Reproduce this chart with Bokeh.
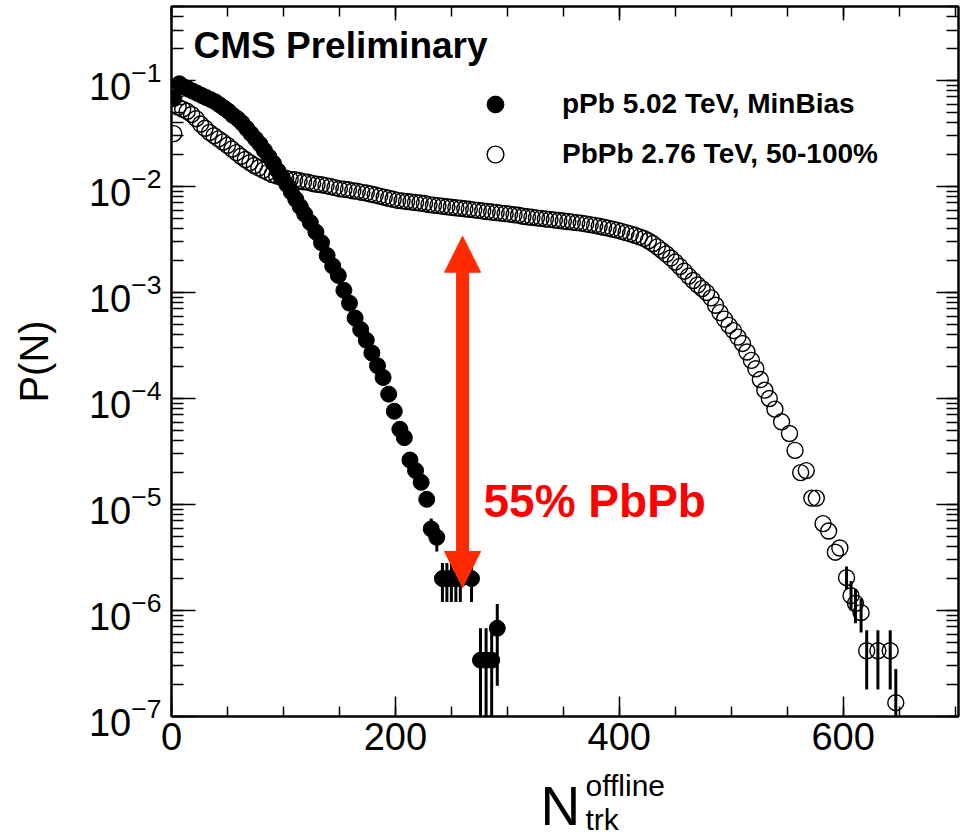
from bokeh.plotting import figure
from bokeh.layouts import column
from bokeh.models import (Range1d, LogAxis, LinearAxis, LogTicker, SingleIntervalTicker,
                          Arrow, NormalHead, Label, Legend, LegendItem)
from bokeh.core.properties import value
from bokeh.embed import file_html
from bokeh.resources import INLINE

FONT = "Liberation Sans"
RED_ARROW = "#ff2a00"
RED_TEXT = "#ff0000"

# ---------------- data ----------------
ppb_n = [2, 7, 11, 15, 19, 23, 27, 31, 35, 39, 43, 47, 51, 55, 59, 63, 67, 71, 75, 79,
         83, 87, 91, 95, 99, 103, 107, 111, 115, 119, 124, 129, 134, 139, 144, 149, 154,
         159, 164, 169, 174, 179, 184, 189, 194, 199, 204, 208, 213, 218, 223, 228, 232,
         237, 242, 246, 250, 254, 258, 268, 276, 281, 286, 291]
ppb_p = [0.0676, 0.0933, 0.0871, 0.0832, 0.0794, 0.0759, 0.0724, 0.0692, 0.0661, 0.0631,
         0.0589, 0.0550, 0.0513, 0.0468, 0.0437, 0.0398, 0.0355, 0.0316, 0.0282, 0.0251,
         0.0219, 0.0191, 0.0166, 0.0141, 0.0120, 0.0105, 0.00891, 0.00759, 0.00646, 0.00550,
         0.00457, 0.00372, 0.00295, 0.00224, 0.00178, 0.00145, 0.00105, 7.94e-4, 5.75e-4,
         4.47e-4, 3.55e-4, 2.69e-4, 2.04e-4, 1.58e-4, 1.10e-4, 7.59e-5, 5.13e-5,
         4.27e-5, 2.63e-5, 2.09e-5, 1.62e-5, 1.12e-5, 5.89e-6, 4.90e-6,
         2.0e-6, 2.0e-6, 2.0e-6, 2.0e-6, 2.0e-6, 2.0e-6, 3.4e-7, 3.4e-7, 3.4e-7, 6.8e-7]
ppb_err_n = [232, 237, 242, 246, 250, 254, 258, 268, 276, 281, 286, 291]
ppb_err_lo = [4.6e-6, 3.6e-6, 1.2e-6, 1.2e-6, 1.2e-6, 1.2e-6, 1.2e-6, 1.2e-6, 1e-8, 1e-8, 1e-8, 1.95e-7]
ppb_err_hi = [7.4e-6, 6.4e-6, 2.8e-6, 2.8e-6, 2.8e-6, 2.8e-6, 2.8e-6, 2.8e-6, 6.8e-7, 6.8e-7, 6.8e-7, 1.15e-6]

pbpb_n = [2, 6, 10, 14, 18, 22, 26, 30, 34, 38, 42, 46, 50, 54, 58, 62, 66, 70, 74, 78,
          82, 86, 90, 94, 98, 102, 106, 110, 114, 118, 122, 126, 130, 134, 138, 142, 146,
          150, 154, 158, 162, 166, 170, 174, 178, 182, 186, 190, 194, 198, 202, 206, 210,
          214, 218, 222, 226, 230, 234, 238, 242, 246, 250, 254, 258, 262, 266, 270, 274,
          278, 282, 286, 290, 294, 298, 302, 306, 310, 314, 318, 322, 326, 330, 334, 338,
          342, 346, 350, 354, 358, 362, 366, 370, 374, 378, 382, 386, 390, 394, 398, 402,
          406, 410, 414, 418, 422, 426, 430, 434, 438, 442, 446, 450, 454, 458, 462, 466,
          470, 474, 478, 482, 486, 490, 494, 498, 502, 506, 510, 514, 518, 522, 526, 530,
          534, 539, 545, 552, 557, 562, 567, 572, 576, 582, 587, 593, 597, 603, 607, 611,
          616, 621, 631, 642, 647]
pbpb_p = [0.0316, 0.0562, 0.0537, 0.0513, 0.0479, 0.0437, 0.0389, 0.0355, 0.0324, 0.0302,
          0.0282, 0.0263, 0.0245, 0.0226, 0.0209, 0.0193, 0.0180, 0.0168, 0.0158, 0.0150,
          0.0143, 0.0136, 0.0130, 0.0126, 0.0123, 0.0120, 0.0117, 0.0116, 0.0114, 0.0111,
          0.0110, 0.0107, 0.0105, 0.0104, 0.0102, 0.0100, 0.00977, 0.00955, 0.00944, 0.00933,
          0.00912, 0.00902, 0.00881, 0.00871, 0.00851, 0.00832, 0.00813, 0.00794, 0.00776,
          0.00759, 0.00741, 0.00733, 0.00724, 0.00716, 0.00708, 0.00700, 0.00692, 0.00676,
          0.00668, 0.00661, 0.00653, 0.00646, 0.00638, 0.00631, 0.00624, 0.00617, 0.00610,
          0.00603, 0.00596, 0.00589, 0.00582, 0.00575, 0.00569, 0.00562, 0.00556, 0.00550,
          0.00543, 0.00537, 0.00525, 0.00519, 0.00513, 0.00507, 0.00501, 0.00495, 0.00490,
          0.00484, 0.00479, 0.00473, 0.00468, 0.00462, 0.00457, 0.00452, 0.00445, 0.00437,
          0.00430, 0.00422, 0.00413, 0.00405, 0.00396, 0.00388, 0.00378, 0.00368, 0.00358,
          0.00347, 0.00335, 0.00324, 0.00308, 0.00290, 0.00270, 0.00250, 0.00231, 0.00212,
          0.00194, 0.00176, 0.00159, 0.00143, 0.00130, 0.00118, 0.00109, 0.00100, 8.91e-4,
          7.59e-4, 6.46e-4, 5.62e-4, 4.90e-4, 4.37e-4, 3.80e-4, 3.31e-4, 2.75e-4, 2.29e-4,
          1.91e-4, 1.51e-4, 1.20e-4, 1.00e-4, 7.94e-5, 6.03e-5, 4.68e-5, 3.24e-5, 2.00e-5,
          2.09e-5, 1.15e-5, 1.15e-5, 6.61e-6, 5.62e-6, 3.55e-6, 3.89e-6, 2.04e-6, 1.38e-6,
          1.17e-6, 9.55e-7, 4.17e-7, 4.17e-7, 4.17e-7, 1.35e-7]
pbpb_err_n = [603, 607, 611, 616, 621, 631, 642, 647]
pbpb_err_lo = [1.6e-6, 1.0e-6, 7.6e-7, 6.2e-7, 1.8e-7, 1.8e-7, 1.8e-7, 5e-8]
pbpb_err_hi = [2.6e-6, 1.9e-6, 1.6e-6, 1.3e-6, 6.5e-7, 6.5e-7, 6.5e-7, 2.8e-7]

x_ticks_major = 200
x_ticks_minor = 4
legend_labels = ["pPb 5.02 TeV, MinBias", "PbPb 2.76 TeV, 50-100%"]
x_title = ["N", "offline", "trk"]

# the red double arrow (position of the annotation)
ARROW_N = 260
ARROW_TOP = 3.4e-3
ARROW_BOTTOM = 1.65e-6

# ---------------- layout ----------------
W, H = 963, 838
H_MAIN = 768                       # main figure; the x-title strip goes below it
FL, FR, FT, FB = 171, 958, 6, 716  # frame edges in canvas pixels
BASELINE_FIX = 0.36                # measured offset of the svg text anchor (x font size)

p = figure(width=W, height=H_MAIN, x_range=Range1d(0, 703), y_range=Range1d(1e-7, 0.5),
           y_axis_type="log", output_backend="svg", toolbar_location=None,
           min_border_left=FL, min_border_right=W - FR, min_border_top=FT,
           min_border_bottom=H_MAIN - FB)
p.xgrid.visible = False
p.ygrid.visible = False
p.outline_line_color = "black"
p.outline_line_width = 2
p.background_fill_color = "white"
p.border_fill_color = "white"

xt = SingleIntervalTicker(interval=x_ticks_major, num_minor_ticks=x_ticks_minor)
yt = LogTicker(desired_num_ticks=8, num_minor_ticks=10)


def style_axis(ax, labels=True, major_in=22, minor_in=11):
    ax.axis_line_color = "black"
    ax.axis_line_width = 2
    ax.major_tick_in = major_in
    ax.major_tick_out = 0
    ax.minor_tick_in = minor_in
    ax.minor_tick_out = 0
    ax.major_tick_line_width = 1.5
    ax.minor_tick_line_width = 1.5
    ax.major_tick_line_color = "black"
    ax.minor_tick_line_color = "black"
    if labels:
        ax.major_label_text_font = FONT
        ax.major_label_text_font_size = "38px"
        ax.major_label_text_color = "black"
    else:
        ax.major_label_text_font_size = "0px"
        ax.major_label_standoff = 0
        ax.major_label_text_alpha = 0


xa = p.xaxis[0]
xa.ticker = xt
style_axis(xa, True, 20, 10)
xa.major_label_standoff = 6

ya = p.yaxis[0]
ya.ticker = yt
style_axis(ya, True, 24, 12)
ya.major_label_standoff = 10
ya.axis_label = "P(N)"
ya.axis_label_text_font = FONT
ya.axis_label_text_font_style = "normal"
ya.axis_label_text_font_size = "40px"
ya.axis_label_text_color = "black"
ya.axis_label_standoff = 30

top = LinearAxis(ticker=xt)
style_axis(top, False, 14, 10)
p.add_layout(top, "above")

right = LogAxis(ticker=yt)
style_axis(right, False, 22, 12)
p.add_layout(right, "right")

# ---------------- data glyphs ----------------
r_pbpb = p.scatter(pbpb_n, pbpb_p, marker="circle", size=16, fill_color=None,
                   line_color="black", line_width=1.4)
p.segment(x0=pbpb_err_n, y0=pbpb_err_lo, x1=pbpb_err_n, y1=pbpb_err_hi,
          line_color="black", line_width=3)
p.segment(x0=ppb_err_n, y0=ppb_err_lo, x1=ppb_err_n, y1=ppb_err_hi,
          line_color="black", line_width=3)
r_ppb = p.scatter(ppb_n, ppb_p, marker="circle", size=16, fill_color="black",
                  line_color="black")

# ---------------- legend ----------------
legend = Legend(items=[LegendItem(label=legend_labels[0], renderers=[r_ppb]),
                       LegendItem(label=legend_labels[1], renderers=[r_pbpb])],
                location=(474 - FL, FB - 175), glyph_width=42, glyph_height=42,
                spacing=8, padding=0, margin=0, label_standoff=46,
                label_text_font=FONT, label_text_font_style="bold",
                label_text_color="black",
                label_text_font_size="28px", background_fill_alpha=0,
                border_line_alpha=0)
p.add_layout(legend)

# ---------------- annotations ----------------
p.add_layout(Arrow(start=NormalHead(size=36, fill_color=RED_ARROW, line_color=RED_ARROW),
                   end=NormalHead(size=36, fill_color=RED_ARROW, line_color=RED_ARROW),
                   x_start=ARROW_N, y_start=ARROW_BOTTOM, x_end=ARROW_N, y_end=ARROW_TOP,
                   line_color=RED_ARROW, line_width=13))


def screen_label(text, cx, base, size, style="normal", color="black"):
    # cx, base: canvas pixels (left edge, text baseline); converted to frame-relative units
    cy = base - BASELINE_FIX * size
    return Label(x=cx - FL, y=FB - cy, x_units="screen", y_units="screen", text=text,
                 text_font=FONT, text_font_size=f"{size}px", text_font_style=style,
                 text_color=color, text_baseline="alphabetic", text_align="left")


p.add_layout(screen_label("CMS Preliminary", 193, 58, 37, "bold"))
p.add_layout(screen_label("55% PbPb", 483, 517, 46, "bold", RED_TEXT))

# ---------------- x-axis title strip (N_trk^offline) ----------------
# The strip uses the same left/right borders as the main plot, and its ranges are
# expressed directly in canvas pixels (x to the right, y downward).
H_STRIP = H - H_MAIN
s = figure(width=W, height=H_STRIP, x_range=Range1d(FL, FR), y_range=Range1d(H, H_MAIN),
           x_axis_type=None, y_axis_type=None, output_backend="svg",
           toolbar_location=None, min_border_left=FL, min_border_right=W - FR,
           min_border_top=0, min_border_bottom=0)
s.outline_line_color = None
s.xgrid.visible = False
s.ygrid.visible = False
s.border_fill_color = "white"
s.text(x=[540], y=[825 - BASELINE_FIX * 55], text=[x_title[0]], text_font=value(FONT),
       text_font_size="55px", text_baseline="alphabetic", text_color="black")
s.text(x=[585, 585], y=[796 - BASELINE_FIX * 30, 830 - BASELINE_FIX * 30],
       text=[x_title[1], x_title[2]],
       text_font=value(FONT), text_font_size="30px", text_baseline="alphabetic",
       text_color="black")

layout = column(p, s, spacing=0)
open("out.html", "w").write(file_html(layout, INLINE))
